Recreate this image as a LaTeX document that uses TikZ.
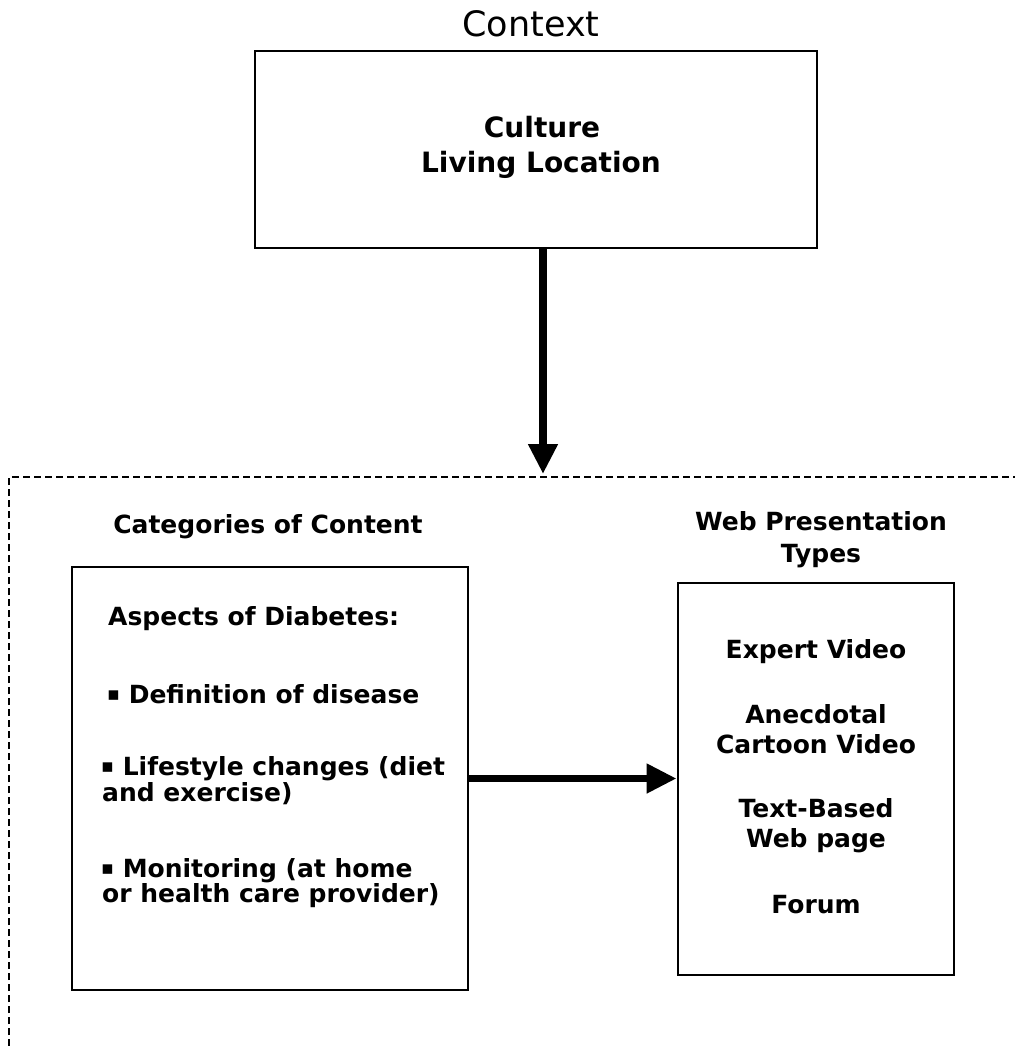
\documentclass[tikz,border=0pt]{standalone}
\usepackage{fontspec}
\setmainfont{DejaVu Sans}
\usetikzlibrary{arrows.meta}
\newcommand\dftitle{\fontsize{35}{42}\selectfont}
\newcommand\dfcult{\fontsize{28}{35}\selectfont\bfseries}
\newcommand\dfbody{\fontsize{25}{30}\selectfont\bfseries}
\newcommand\sqbul{\raisebox{3pt}{\fontsize{19}{19}\selectfont ▪}}
\tikzset{
  txt/.style={inner sep=0pt, anchor=base},
  ltxt/.style={inner sep=0pt, anchor=base west},
  boxnode/.style={draw, line width=2.8pt, inner sep=0pt},
  bigarrow/.style={line width=7.5pt, -{Triangle[length=30pt,width=28pt]}},
  frame/.style={line width=1.8pt, dash pattern=on 7pt off 4pt}
}
\begin{document}
\begin{tikzpicture}[x=1pt,y=-1pt]
\useasboundingbox (0,0) rectangle (1015,1046);
% context
\node[txt, font=\dftitle] (ctxtitle) at (531,37) {Context};
\node[boxnode, minimum width=562pt, minimum height=197pt] (ctxbox) at (536,149.5) {};
\node[txt, font=\dfcult] (culture) at (542,137) {Culture};
\node[txt, font=\dfcult] (living) at (541,172) {Living Location};
% dashed frame
\coordinate (fbl) at (9,1046);
\coordinate (ftl) at (9,477);
\coordinate (ftr) at (1015,477);
\draw[frame] (fbl) -- (ftl) -- (ftr);
% vertical arrow
\coordinate (tip) at (543,474);
\draw[bigarrow] (ctxbox.south -| tip) -- (tip);
% categories
\node[txt, font=\dfbody] (cattitle) at (268,533) {Categories of Content};
\node[boxnode, minimum width=396pt, minimum height=423pt] (catbox) at (270,778.5) {};
\node[ltxt, font=\dfbody] (asp) at (108,625) {Aspects of Diabetes:};
\node[ltxt, font=\dfbody] (def) at (107,703) {\sqbul{} Definition of disease};
\node[ltxt, font=\dfbody] (life1) at (101,775) {\sqbul{} Lifestyle changes (diet};
\node[ltxt, font=\dfbody] (life2) at (102,801) {and exercise)};
\node[ltxt, font=\dfbody] (mon1) at (101,877) {\sqbul{} Monitoring (at home};
\node[ltxt, font=\dfbody] (mon2) at (102,902) {or health care provider)};
% web presentation
\node[txt, font=\dfbody] (webtitle1) at (821,530) {Web Presentation};
\node[txt, font=\dfbody] (webtitle2) at (821,562) {Types};
\node[boxnode, minimum width=276pt, minimum height=392pt] (webbox) at (816,779) {};
\node[txt, font=\dfbody] (expert) at (816,658) {Expert Video};
\node[txt, font=\dfbody] (anec) at (816,723) {Anecdotal};
\node[txt, font=\dfbody] (cartoon) at (816,753) {Cartoon Video};
\node[txt, font=\dfbody] (textb) at (816,817) {Text-Based};
\node[txt, font=\dfbody] (webpage) at (816,847) {Web page};
\node[txt, font=\dfbody] (forum) at (816,913) {Forum};
% horizontal arrow
\draw[bigarrow] (catbox.east) -- (catbox.east -| webbox.west);
\end{tikzpicture}
\end{document}
